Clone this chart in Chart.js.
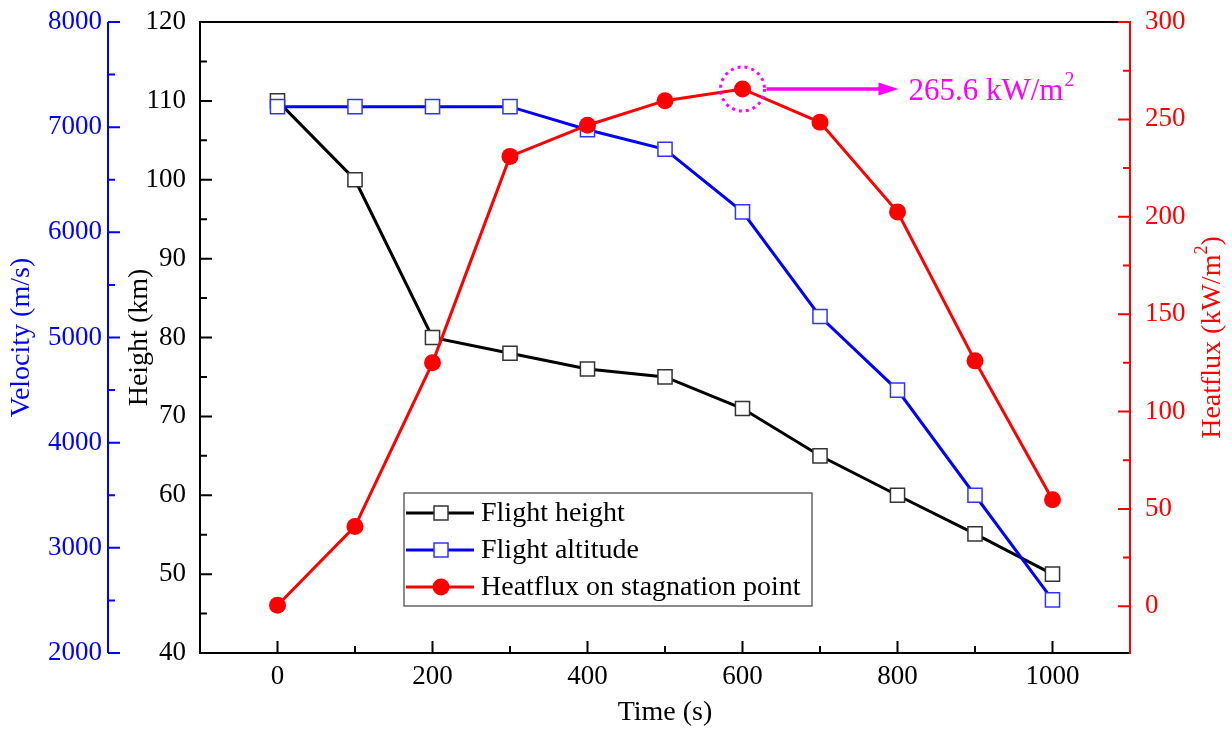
<!DOCTYPE html>
<html>
<head>
<meta charset="utf-8">
<script src="https://cdn.jsdelivr.net/npm/chart.js@4.4.1/dist/chart.umd.min.js"></script>
<style>
  html, body { margin: 0; padding: 0; background: #fff; }
</style>
</head>
<body>
<canvas id="grafico" width="1232" height="731"></canvas>
<script>
// dados
const time = [0, 100, 200, 300, 400, 500, 600, 700, 800, 900, 1000];
const flightHeight = [110, 100, 80, 78, 76, 75, 71, 65, 60, 55.1, 50];
const flightAltitude = [7195, 7195, 7195, 7195, 6975, 6790, 6195, 5200, 4500, 3500, 2505];
const heatflux = [0.5, 41, 125, 231, 247, 259.6, 265.6, 248.5, 202.5, 126, 54.7];

const timeTicks = [0, 200, 400, 600, 800, 1000];
const heightTicks = [40, 50, 60, 70, 80, 90, 100, 110, 120];
const velocityTicks = [2000, 3000, 4000, 5000, 6000, 7000, 8000];
const heatTicks = [0, 50, 100, 150, 200, 250, 300];

const peakIndex = 6;
const peakText = "265.6 kW/m";

const fonte = "'Liberation Serif', 'Times New Roman', serif";
const azul = "#0000FF";
const vermelho = "#FF0000";
const magenta = "#FF00FF";

function pontos(ys) {
    return time.map((t, i) => ({ x: t, y: ys[i] }));
}

function fixTicks(lista) {
    return function (s) {
        s.ticks = lista.map(v => ({ value: v }));
    };
}

// marcas de escala para dentro (maiores e menores)
function marcas(ctx, scale, lista, pos, dir, horizontal, cor) {
    ctx.strokeStyle = cor;
    ctx.lineWidth = 2;
    let vals = [];
    for (let i = 0; i < lista.length; i++) {
        vals.push([lista[i], 12]);
        if (i < lista.length - 1) vals.push([(lista[i] + lista[i + 1]) / 2, 7]);
    }
    ctx.beginPath();
    vals.forEach(([v, len]) => {
        let p = scale.getPixelForValue(v);
        if (horizontal) {
            ctx.moveTo(p, pos);
            ctx.lineTo(p, pos + dir * len);
        } else {
            ctx.moveTo(pos, p);
            ctx.lineTo(pos + dir * len, p);
        }
    });
    ctx.stroke();
}

function tituloVertical(ctx, x, y, partes, cor, tam) {
    ctx.save();
    ctx.translate(x, y);
    ctx.rotate(-Math.PI / 2);
    ctx.fillStyle = cor;
    ctx.textBaseline = "middle";
    // largura total para centralizar
    let total = 0;
    partes.forEach(p => {
        ctx.font = (p.sup ? tam * 0.65 : tam) + "px " + fonte;
        total += ctx.measureText(p.t).width;
    });
    let cx = -total / 2;
    partes.forEach(p => {
        ctx.font = (p.sup ? tam * 0.65 : tam) + "px " + fonte;
        ctx.textAlign = "left";
        ctx.fillText(p.t, cx, p.sup ? -tam * 0.38 : 0);
        cx += ctx.measureText(p.t).width;
    });
    ctx.restore();
}

const decor = {
    id: "decor",
    afterDatasetsDraw(chart) {
        const ctx = chart.ctx;
        const a = chart.chartArea;
        const sx = chart.scales.x, sh = chart.scales.yH, sv = chart.scales.yV, sq = chart.scales.yQ;
        ctx.save();

        // moldura
        ctx.strokeStyle = "#000";
        ctx.lineWidth = 2;
        ctx.beginPath();
        ctx.moveTo(a.right, a.top);
        ctx.lineTo(a.left, a.top);
        ctx.lineTo(a.left, a.bottom);
        ctx.lineTo(a.right, a.bottom);
        ctx.stroke();

        marcas(ctx, sx, timeTicks, a.bottom, -1, true, "#000");
        marcas(ctx, sh, heightTicks, a.left, 1, false, "#000");

        // eixo da velocidade
        ctx.strokeStyle = azul;
        ctx.beginPath();
        ctx.moveTo(sv.right, a.top);
        ctx.lineTo(sv.right, a.bottom);
        ctx.stroke();
        marcas(ctx, sv, velocityTicks, sv.right, 1, false, azul);

        // eixo do fluxo de calor
        ctx.strokeStyle = vermelho;
        ctx.beginPath();
        ctx.moveTo(a.right, a.top - 1);
        ctx.lineTo(a.right, a.bottom + 1);
        ctx.stroke();
        marcas(ctx, sq, heatTicks, a.right, -1, false, vermelho);

        // destaque do pico
        const px = sx.getPixelForValue(time[peakIndex]);
        const py = sq.getPixelForValue(heatflux[peakIndex]);
        ctx.strokeStyle = magenta;
        ctx.lineWidth = 3;
        ctx.setLineDash([3, 4]);
        ctx.beginPath();
        ctx.arc(px, py, 22, 0, Math.PI * 2);
        ctx.stroke();
        ctx.setLineDash([]);
        ctx.lineWidth = 3.5;
        ctx.beginPath();
        ctx.moveTo(px + 24, py);
        ctx.lineTo(px + 140, py);
        ctx.stroke();
        ctx.fillStyle = magenta;
        ctx.beginPath();
        ctx.moveTo(px + 156, py);
        ctx.lineTo(px + 136, py - 6.5);
        ctx.lineTo(px + 136, py + 6.5);
        ctx.closePath();
        ctx.fill();
        ctx.font = "31px " + fonte;
        ctx.textAlign = "left";
        ctx.textBaseline = "alphabetic";
        ctx.fillText(peakText, px + 166, py + 11);
        const w = ctx.measureText(peakText).width;
        ctx.font = "20px " + fonte;
        ctx.fillText("2", px + 166 + w + 1, py - 3);

        // legenda
        const lx = 404, ly = 493, lw = 408, lh = 113;
        ctx.fillStyle = "#fff";
        ctx.fillRect(lx, ly, lw, lh);
        ctx.strokeStyle = "#666";
        ctx.lineWidth = 1.5;
        ctx.strokeRect(lx, ly, lw, lh);
        chart.data.datasets.forEach((ds, i) => {
            const yy = ly + 20 + i * 37;
            ctx.strokeStyle = ds.borderColor;
            ctx.lineWidth = 3;
            ctx.beginPath();
            ctx.moveTo(lx + 2, yy);
            ctx.lineTo(lx + 70, yy);
            ctx.stroke();
            const mx = lx + 37;
            if (ds.pointStyle === "rect") {
                ctx.fillStyle = "#fff";
                ctx.fillRect(mx - 7, yy - 7, 14, 14);
                ctx.strokeStyle = ds.pointBorderColor;
                ctx.lineWidth = 1.5;
                ctx.strokeRect(mx - 7, yy - 7, 14, 14);
            } else {
                ctx.fillStyle = ds.pointBackgroundColor;
                ctx.beginPath();
                ctx.arc(mx, yy, 8.5, 0, Math.PI * 2);
                ctx.fill();
            }
            ctx.fillStyle = "#000";
            ctx.font = "28px " + fonte;
            ctx.textBaseline = "middle";
            ctx.fillText(ds.label, lx + 77, yy + 1);
        });

        ctx.restore();
    },
    afterDraw(chart) {
        const ctx = chart.ctx;
        const a = chart.chartArea;
        const mid = (a.top + a.bottom) / 2;
        tituloVertical(ctx, 22, mid, [{ t: "Velocity (m/s)" }], azul, 28);
        tituloVertical(ctx, 140, mid, [{ t: "Height (km)" }], "#000", 28);
        tituloVertical(ctx, 1213, mid, [{ t: "Heatflux (kW/m" }, { t: "2", sup: true }, { t: ")" }], vermelho, 28);
    }
};

// afastamento dos rótulos feito pelo tickLength (grade escondida)
function gradeOculta(dist) {
    return { display: false, drawTicks: true, tickLength: dist };
}

const ctx = document.getElementById("grafico");
new Chart(ctx, {
    type: "line",
    data: {
        datasets: [{
            label: "Flight height",
            data: pontos(flightHeight),
            yAxisID: "yH",
            borderColor: "#000",
            borderWidth: 3,
            pointStyle: "rect",
            pointRadius: 10,
            pointBackgroundColor: "#fff",
            pointBorderColor: "#333",
            pointBorderWidth: 1.5,
            order: 3
        }, {
            label: "Flight altitude",
            data: pontos(flightAltitude),
            yAxisID: "yV",
            borderColor: azul,
            borderWidth: 3,
            pointStyle: "rect",
            pointRadius: 10,
            pointBackgroundColor: "#fff",
            pointBorderColor: "#3333ff",
            pointBorderWidth: 1.5,
            order: 2
        }, {
            label: "Heatflux on stagnation point",
            data: pontos(heatflux),
            yAxisID: "yQ",
            borderColor: vermelho,
            borderWidth: 3,
            pointStyle: "circle",
            pointRadius: 8.5,
            pointBackgroundColor: vermelho,
            pointBorderColor: vermelho,
            pointBorderWidth: 0,
            order: 1
        }]
    },
    options: {
        responsive: false,
        animation: false,
        events: [],
        devicePixelRatio: 1,
        layout: { padding: { top: 22, right: 0, bottom: 0, left: 0 } },
        plugins: {
            legend: { display: false },
            tooltip: { enabled: false }
        },
        scales: {
            x: {
                type: "linear",
                min: -100,
                max: 1100,
                afterBuildTicks: fixTicks(timeTicks),
                afterFit: s => { s.height = 78; },
                grid: { display: false, drawTicks: false },
                border: { display: false },
                ticks: {
                    color: "#000",
                    font: { family: fonte, size: 27 },
                    padding: 8,
                    maxRotation: 0,
                    autoSkip: false,
                    callback: v => String(v)
                },
                title: {
                    display: true,
                    text: "Time (s)",
                    color: "#000",
                    font: { family: fonte, size: 28 },
                    padding: { top: 0, bottom: 2 }
                }
            },
            yH: {
                type: "linear",
                position: "left",
                weight: 0,
                min: 40,
                max: 120,
                afterBuildTicks: fixTicks(heightTicks),
                afterFit: s => { s.width = 92; },
                grid: gradeOculta(14),
                border: { display: false },
                ticks: {
                    color: "#000",
                    font: { family: fonte, size: 27 },
                    padding: 0,
                    callback: v => String(v)
                }
            },
            yV: {
                type: "linear",
                position: "left",
                weight: 1,
                min: 2000,
                max: 8000,
                afterBuildTicks: fixTicks(velocityTicks),
                afterFit: s => { s.width = 108; },
                grid: gradeOculta(6),
                border: { display: false },
                ticks: {
                    color: azul,
                    font: { family: fonte, size: 27 },
                    padding: 0,
                    callback: v => String(v)
                }
            },
            yQ: {
                type: "linear",
                position: "right",
                min: -24,
                max: 300,
                afterBuildTicks: fixTicks(heatTicks),
                afterFit: s => { s.width = 102; },
                grid: gradeOculta(15),
                border: { display: false },
                ticks: {
                    color: vermelho,
                    font: { family: fonte, size: 27 },
                    padding: 0,
                    callback: v => String(v)
                }
            }
        }
    },
    plugins: [decor]
});
</script>
</body>
</html>
